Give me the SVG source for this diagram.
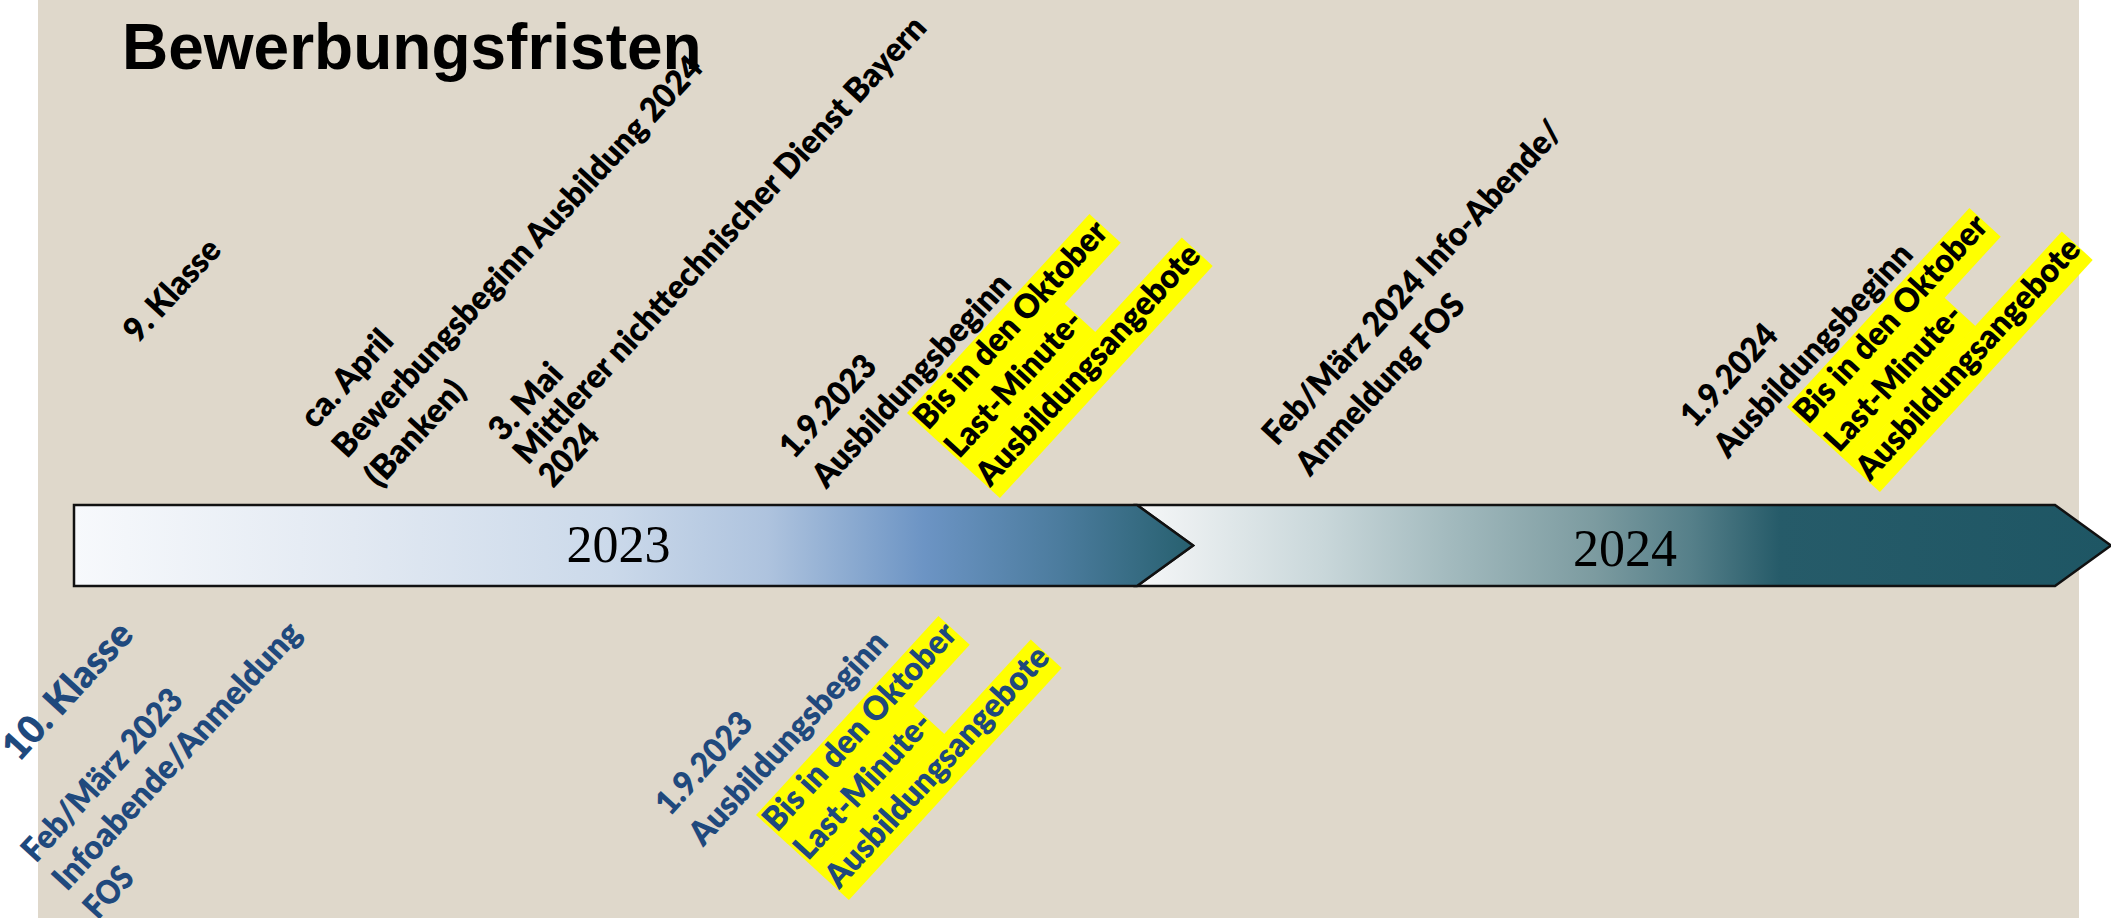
<svg xmlns="http://www.w3.org/2000/svg" width="2111" height="918" viewBox="0 0 2111 918">
<defs>
<linearGradient id="g2023" gradientUnits="userSpaceOnUse" x1="74" y1="0" x2="1193" y2="0">
<stop offset="0" stop-color="#F7F9FC"/>
<stop offset="0.25" stop-color="#E2E9F2"/>
<stop offset="0.48" stop-color="#CBD9EA"/>
<stop offset="0.62" stop-color="#AEC3DE"/>
<stop offset="0.76" stop-color="#6C94C4"/>
<stop offset="0.88" stop-color="#4C7C9E"/>
<stop offset="1" stop-color="#27606F"/>
</linearGradient>
<linearGradient id="g2024" gradientUnits="userSpaceOnUse" x1="1137" y1="0" x2="2111" y2="0">
<stop offset="0" stop-color="#F6F7F8"/>
<stop offset="0.19" stop-color="#C9D7DA"/>
<stop offset="0.33" stop-color="#A0B8BC"/>
<stop offset="0.47" stop-color="#7C9BA0"/>
<stop offset="0.57" stop-color="#557F89"/>
<stop offset="0.66" stop-color="#265B69"/>
<stop offset="1" stop-color="#1E5664"/>
</linearGradient>
<style>
.t{font-family:Lato,"Open Sans","Noto Sans",sans-serif;font-weight:800;font-size:33.5px}
.big{font-size:38.5px}
.k{fill:#000}
.b{fill:#1F497D}
.hl{fill:#FFFF00}
.year{font-family:"Liberation Serif","Times New Roman",serif;font-size:52px;fill:#000;text-anchor:middle}
.title{font-family:"Liberation Sans",Arial,sans-serif;font-weight:700;font-size:64px;fill:#000}
.arrow{stroke:#111;stroke-width:2.5;stroke-linejoin:miter}
</style>
</defs>
<rect x="0" y="0" width="2111" height="918" fill="#FFFFFF"/>
<rect id="background" x="38" y="0" width="2041" height="918" fill="#DFD8CB"/>

<g id="title"><text class="title" x="122" y="69">Bewerbungsfristen</text></g>

<g id="arrow-2024">
<polygon class="arrow" fill="url(#g2024)" points="1137,505 2055,505 2111,545.5 2055,586 1137,586 1193,545.5"/>
<text class="year" x="1625" y="566">2024</text>
</g>
<g id="arrow-2023">
<polygon class="arrow" fill="url(#g2023)" points="74,505 1137,505 1193,545.5 1137,586 74,586"/>
<text class="year" x="618.5" y="562">2023</text>
</g>

<g id="connectors"></g>

<g id="n-9klasse" transform="translate(138,344) rotate(-47.5)">
<text class="t k" x="0" y="0" textLength="125.6" lengthAdjust="spacingAndGlyphs">9. Klasse</text>
</g>

<g id="n-april" transform="translate(315,430) rotate(-47.5)">
<text class="t k" x="0" y="0" textLength="118.8" lengthAdjust="spacingAndGlyphs">ca. April</text>
<text class="t k" x="0" y="43.5" textLength="529.2" lengthAdjust="spacingAndGlyphs">Bewerbungsbeginn Ausbildung 2024</text>
<text class="t k" x="0" y="87" textLength="130.8" lengthAdjust="spacingAndGlyphs">(Banken)</text>
</g>

<g id="n-mai" transform="translate(503,443) rotate(-47.5)">
<text class="t k" x="0" y="0" textLength="91.5" lengthAdjust="spacingAndGlyphs">3. Mai</text>
<text class="t k" x="0" y="34" textLength="592.4" lengthAdjust="spacingAndGlyphs">Mittlerer nichttechnischer Dienst Bayern</text>
<text class="t k" x="0" y="68" textLength="71" lengthAdjust="spacingAndGlyphs">2024</text>
</g>

<g id="n-start2023-top" transform="translate(794,460) rotate(-47.5)">
<text class="t k" x="0" y="0" textLength="125.2" lengthAdjust="spacingAndGlyphs">1.9.2023</text>
<text class="t k" x="0" y="44" textLength="276.1" lengthAdjust="spacingAndGlyphs">Ausbildungsbeginn</text>
</g>

<g id="n-lastminute2023-top" transform="translate(907,413) rotate(-47.5)">
<rect class="hl" x="0" y="0" width="270" height="42.5"/>
<rect class="hl" x="0" y="42" width="187" height="42.5"/>
<rect class="hl" x="0" y="84" width="315" height="42"/>
<text class="t k" x="1" y="28" textLength="268" lengthAdjust="spacingAndGlyphs">Bis in den Oktober</text>
<text class="t k" x="1" y="70" textLength="185.5" lengthAdjust="spacingAndGlyphs">Last-Minute-</text>
<text class="t k" x="1" y="112" textLength="313.6" lengthAdjust="spacingAndGlyphs">Ausbildungsangebote</text>
</g>

<g id="n-fos2024" transform="translate(1277,447) rotate(-47.5)">
<text class="t k" x="0" y="0" textLength="425.1" lengthAdjust="spacingAndGlyphs">Feb/März 2024 Info-Abende/</text>
<text class="t k" x="0" y="45" textLength="231.8" lengthAdjust="spacingAndGlyphs">Anmeldung FOS</text>
</g>

<g id="n-start2024" transform="translate(1695,429) rotate(-47.5)">
<text class="t k" x="0" y="0" textLength="125.2" lengthAdjust="spacingAndGlyphs">1.9.2024</text>
<text class="t k" x="0" y="45" textLength="276.1" lengthAdjust="spacingAndGlyphs">Ausbildungsbeginn</text>
</g>

<g id="n-lastminute2024" transform="translate(1787,407) rotate(-47.5)">
<rect class="hl" x="0" y="0" width="270" height="42.5"/>
<rect class="hl" x="0" y="42" width="187" height="42.5"/>
<rect class="hl" x="0" y="84" width="315" height="42"/>
<text class="t k" x="1" y="28" textLength="268" lengthAdjust="spacingAndGlyphs">Bis in den Oktober</text>
<text class="t k" x="1" y="70" textLength="185.5" lengthAdjust="spacingAndGlyphs">Last-Minute-</text>
<text class="t k" x="1" y="112" textLength="313.6" lengthAdjust="spacingAndGlyphs">Ausbildungsangebote</text>
</g>

<g id="n-10klasse" transform="translate(19,763) rotate(-47.5)">
<text class="t big b" x="0" y="0" textLength="172" lengthAdjust="spacingAndGlyphs">10. Klasse</text>
</g>

<g id="n-fos2023" transform="translate(36,864) rotate(-47.5)">
<text class="t b" x="0" y="0" textLength="220.6" lengthAdjust="spacingAndGlyphs">Feb/März 2023</text>
<text class="t b" x="0" y="42" textLength="349.6" lengthAdjust="spacingAndGlyphs">Infoabende/Anmeldung</text>
<text class="t b" x="0" y="84" textLength="56.3" lengthAdjust="spacingAndGlyphs">FOS</text>
</g>

<g id="n-start2023-bottom" transform="translate(670,817) rotate(-47.5)">
<text class="t b" x="0" y="0" textLength="125.2" lengthAdjust="spacingAndGlyphs">1.9.2023</text>
<text class="t b" x="0" y="45" textLength="276.1" lengthAdjust="spacingAndGlyphs">Ausbildungsbeginn</text>
</g>

<g id="n-lastminute2023-bottom" transform="translate(756,815) rotate(-47.5)">
<rect class="hl" x="0" y="0" width="270" height="42.5"/>
<rect class="hl" x="0" y="42" width="187" height="42.5"/>
<rect class="hl" x="0" y="84" width="315" height="42"/>
<text class="t b" x="1" y="28" textLength="268" lengthAdjust="spacingAndGlyphs">Bis in den Oktober</text>
<text class="t b" x="1" y="70" textLength="185.5" lengthAdjust="spacingAndGlyphs">Last-Minute-</text>
<text class="t b" x="1" y="112" textLength="313.6" lengthAdjust="spacingAndGlyphs">Ausbildungsangebote</text>
</g>
</svg>
